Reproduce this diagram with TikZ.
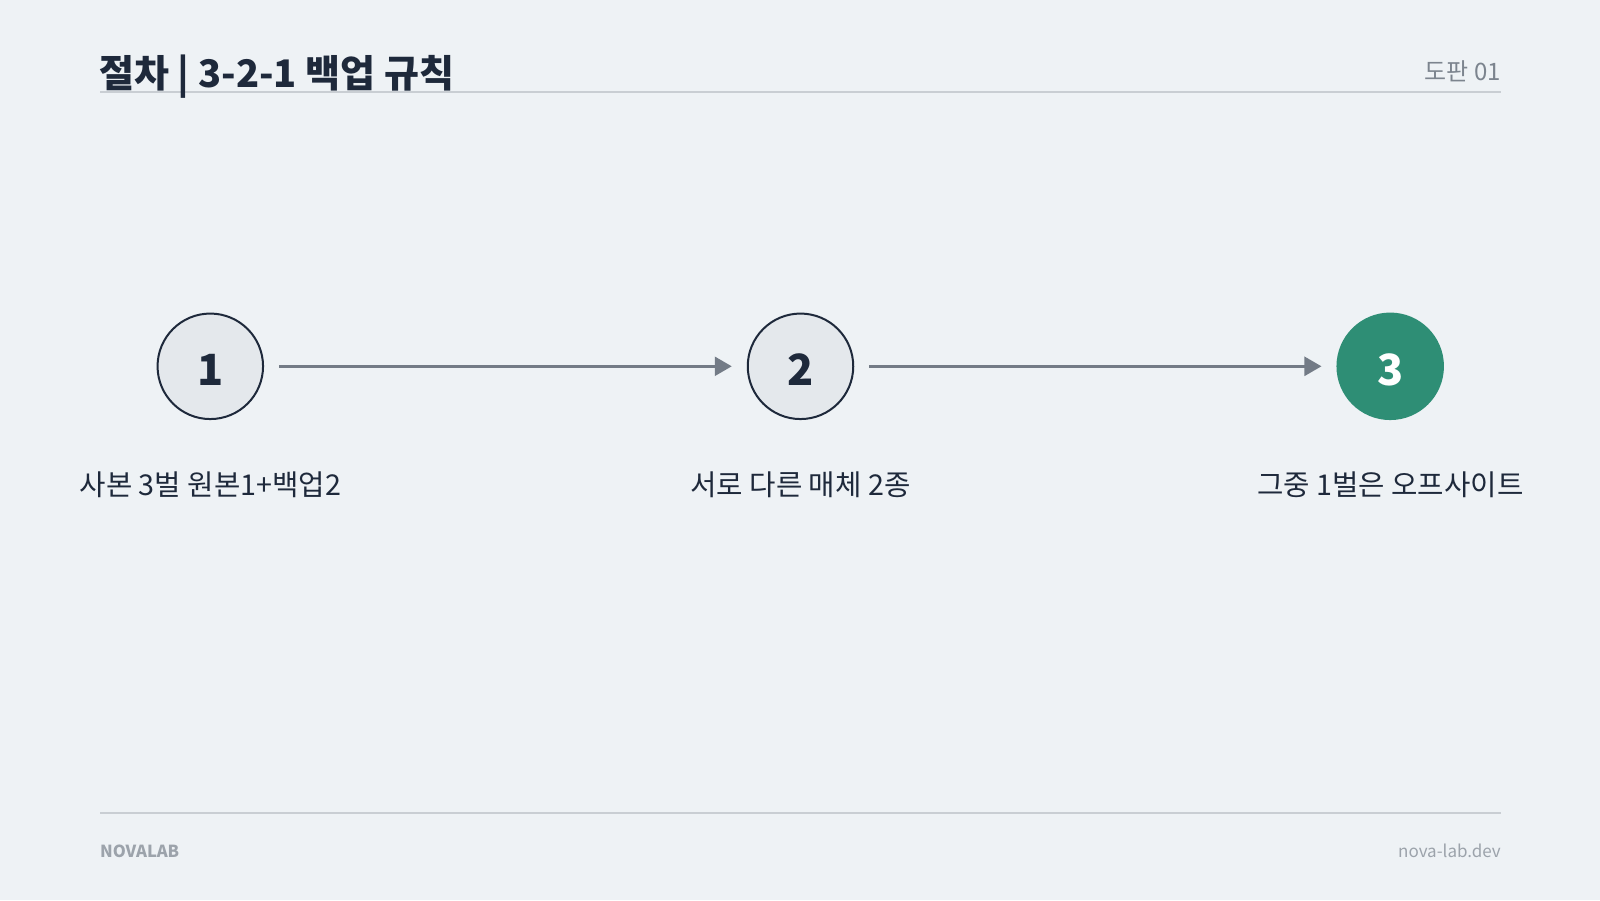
\documentclass[tikz,border=0pt]{standalone}
\usepackage{fontspec}
\setmainfont{Noto Sans CJK KR}
\usetikzlibrary{arrows.meta}
\definecolor{bgc}{HTML}{EEF2F5}
\definecolor{darkc}{HTML}{1E293B}
\definecolor{circfill}{HTML}{E4E8EC}
\definecolor{greenc}{HTML}{2E8E75}
\definecolor{arrowc}{HTML}{737B86}
\definecolor{rulec}{HTML}{C9CED3}
\definecolor{subc}{HTML}{7C848E}
\definecolor{footc}{HTML}{9CA3AB}
\tikzset{
  rulestyle/.style={draw=rulec, line width=1.5pt},
  stepcirc/.style={circle, draw=darkc, line width=2pt, fill=circfill, minimum size=105.5pt, inner sep=0pt, outer sep=0pt,
    text=darkc, font=\fontsize{43}{46}\selectfont\bfseries, text height=38pt, text depth=0pt},
  donecirc/.style={stepcirc, draw=greenc, fill=greenc, text=white},
  flow/.style={draw=arrowc, line width=2.5pt, -{Triangle[length=17pt,width=19pt]}, shorten <=16pt, shorten >=16pt},
  lbl/.style={anchor=base, inner sep=0pt, text=darkc, font=\fontsize{28.7}{32}\selectfont},
}
\begin{document}
\begin{tikzpicture}[x=1pt,y=-1pt]
\fill[bgc] (0,0) rectangle (1600,900);
\useasboundingbox (0,0) rectangle (1600,900);
% header
\coordinate (hl) at (100,92);
\coordinate (hr) at (1501,92);
\draw[rulestyle] (hl) -- (hr);
\node[anchor=base west, inner sep=0pt, text=darkc, font=\fontsize{38}{41}\selectfont\bfseries] (title) at (99,87.5) {절차 | 3-2-1 백업 규칙};
\node[anchor=base east, inner sep=0pt, text=subc, font=\fontsize{24}{27}\selectfont] (plate) at (1501,80) {도판 01};
% steps
\node[stepcirc] (c1) at (210.3,366.3) {1};
\node[stepcirc] (c2) at (800.5,366.3) {2};
\node[donecirc] (c3) at (1390.2,366.3) {3};
\draw[flow] (c1) -- (c2);
\draw[flow] (c2) -- (c3);
\node[lbl] (l1) at (210.3,495) {사본 3벌 원본1+백업2};
\node[lbl] (l2) at (800.5,495) {서로 다른 매체 2종};
\node[lbl] (l3) at (1390.2,495) {그중 1벌은 오프사이트};
% footer
\coordinate (fl) at (100,813);
\coordinate (fr) at (1501,813);
\draw[rulestyle] (fl) -- (fr);
\node[anchor=base west, inner sep=0pt, text=footc, font=\fontsize{16.6}{20}\selectfont\bfseries] (brand) at (100,857.5) {NOVALAB};
\node[anchor=base east, inner sep=0pt, text=footc, font=\fontsize{17}{20}\selectfont] (site) at (1501,857.5) {nova-lab.dev};
\end{tikzpicture}
\end{document}
